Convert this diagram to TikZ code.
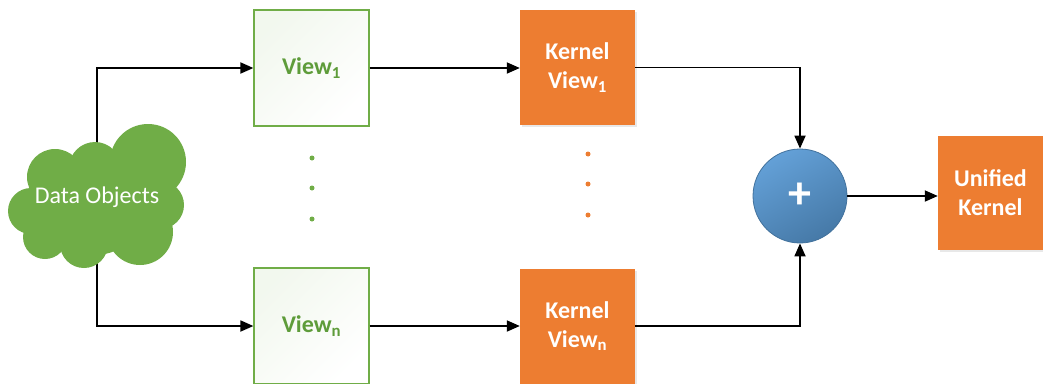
\documentclass[tikz,border=0pt]{standalone}
\usepackage{fontspec}
\setmainfont{Carlito}
\usetikzlibrary{arrows.meta,backgrounds,shadows}
\definecolor{leaf}{HTML}{70AD47}
\definecolor{leafdark}{HTML}{5E9C3A}
\definecolor{tangerine}{HTML}{ED7D31}
\definecolor{skyblue}{HTML}{5B9BD5}
\definecolor{deepblue}{HTML}{41719C}
\tikzset{
  viewbox/.style={draw=leaf, line width=1.2pt, shade, top color=leaf!9!white,
    bottom color=white, shading angle=45, minimum width=115pt, minimum height=116pt,
    text=leafdark, font=\bfseries\fontsize{24}{29}\selectfont, align=center},
  kernbox/.style={fill=tangerine, minimum width=115pt, minimum height=115pt,
    text=white, font=\bfseries\fontsize{24}{29}\selectfont, align=center,
    drop shadow={opacity=0.18, shadow xshift=1.5pt, shadow yshift=-2pt}},
  sumnode/.style={circle, draw=deepblue, line width=0.8pt, inner sep=0pt,
    minimum size=94pt, shade, top color=skyblue!95!white, bottom color=deepblue!80!skyblue,
    shading angle=30, text=white, font=\bfseries\fontsize{46}{46}\selectfont},
  arr/.style={line width=1.8pt, -{Triangle[length=13pt,width=11pt]}},
  dot/.style={circle, inner sep=0pt, minimum size=5pt},
}
\begin{document}
\begin{tikzpicture}[x=1pt, y=-1pt]
  \clip (0,0) rectangle (1043,383);
  \useasboundingbox (0,0) rectangle (1043,383);

  % cloud holding the data objects
  \begin{scope}[fill=leaf]
    \fill (148,162) circle (38);
    \fill (95,168) circle (26);
    \fill (55,177) circle (28);
    \fill (31,211) circle (23);
    \fill (45,237) circle (22);
    \fill (84,244) circle (24);
    \fill (140,232) circle (33);
    \fill (160,205) circle (24);
    \fill (95,205) circle (50);
    \fill (120,190) circle (40);
  \end{scope}
  \node[text=white, font=\fontsize{24}{28}\selectfont] (data) at (97,197) {Data Objects};

  % views and their kernels
  \node[viewbox] (v1) at (311.5,68) {View\textsubscript{1}};
  \node[viewbox] (vn) at (311.5,326) {View\textsubscript{n}};
  \node[kernbox] (k1) at (577.5,67.5) {Kernel\\View\textsubscript{1}};
  \node[kernbox] (kn) at (577.5,326) {Kernel\\View\textsubscript{n}};
  \node[sumnode] (sum) at (800,196) {+};
  \node[kernbox, minimum width=105pt, minimum height=114pt] (uni) at (990.5,193) {Unified\\Kernel};

  % elision dots between the first and last view
  \foreach \y in {158,188,219} \node[dot, fill=leaf] (g\y) at (312,\y) {};
  \foreach \y in {154,184,215} \node[dot, fill=tangerine] (o\y) at (588,\y) {};

  % connectors
  \begin{pgfonlayer}{background}
    \draw[arr] (data.center) |- (v1.west);
    \draw[arr] (data.center) |- (vn.west);
  \end{pgfonlayer}
  \draw[arr] (v1.east) -- (k1.west |- v1.east);
  \draw[arr] (vn.east) -- (kn.west |- vn.east);
  \draw[arr] (k1.east) -| (sum.north);
  \draw[arr] (kn.east) -| (sum.south);
  \draw[arr] (sum.east) -- (sum.east -| uni.west);
\end{tikzpicture}
\end{document}
